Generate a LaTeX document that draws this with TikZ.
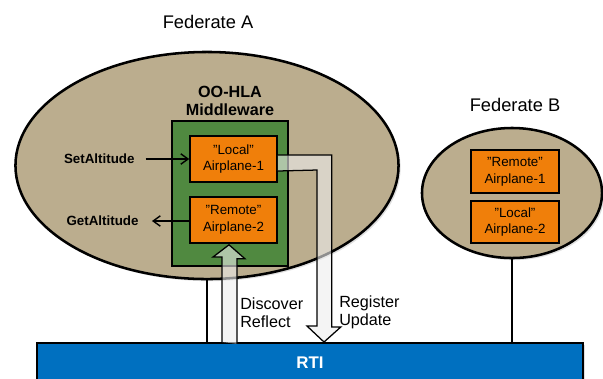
\documentclass[tikz,border=0pt]{standalone}
\usepackage{fontspec}
\setmainfont{Liberation Sans}
\usetikzlibrary{calc}
\usetikzlibrary{shapes.geometric}
\usetikzlibrary{shadows}
\usetikzlibrary{arrows.meta}
\tikzset{>={Straight Barb[length=1.8mm,width=2.6mm]}}
\definecolor{fedtan}{RGB}{187,173,142}
\definecolor{mwgreen}{RGB}{80,137,64}
\definecolor{objorange}{RGB}{240,127,10}
\definecolor{rtiblue}{RGB}{0,112,192}
\tikzset{
  federate/.style={ellipse, draw, line width=1.8pt, fill=fedtan,
    drop shadow={shadow xshift=1.5pt, shadow yshift=-1.5pt, opacity=0.25}},
  fedname/.style={font=\fontsize{13}{15}\selectfont},
  object/.style={draw, line width=1.1pt, fill=objorange, minimum width=2.175cm,
    minimum height=1.15cm, align=center, inner sep=0pt, font=\fontsize{9.5}{12}\selectfont},
  call/.style={font=\bfseries\fontsize{9.5}{12}\selectfont},
  flow/.style={draw, line width=0.9pt, fill=gray!14, fill opacity=0.6},
  flowtext/.style={align=left, anchor=north west, inner sep=0pt, font=\fontsize{11.5}{13}\selectfont},
}

\begin{document}
\begin{tikzpicture}[x=0.025cm, y=-0.025cm]
  \useasboundingbox (0,0) rectangle (603,378);

  \node[fedname] (nameA) at (208,22) {Federate A};
  \node[federate, minimum width=9.575cm, minimum height=5.675cm] (feda) at (207,165.5) {};
  \node[fedname] (nameB) at (515,105) {Federate B};
  \node[federate, minimum width=4.5cm, minimum height=3.25cm] (fedb) at (512,193) {};

  \node[draw, line width=1.4pt, fill=rtiblue, minimum width=13.65cm, minimum height=1cm,
    text=white, font=\bfseries\fontsize{12}{14}\selectfont,
    drop shadow={shadow xshift=1.5pt, shadow yshift=-1.5pt, opacity=0.25}] (rti) at (310,363) {RTI};
  \draw[line width=1.4pt] (feda.south) -- (feda.south |- rti.north);
  \draw[line width=1.4pt] (fedb.south) -- (fedb.south |- rti.north);

  \node[draw, line width=1.1pt, fill=mwgreen, minimum width=2.9cm, minimum height=3.625cm] (mw) at (230,193.5) {};
  \node[above, align=center, font=\bfseries\fontsize{11.5}{12.8}\selectfont] (mwname) at (mw.north) {OO-HLA\\Middleware};

  \node[object] (loc1) at (233.5,159) {"Local"\\Airplane-1};
  \node[object] (rem2) at (233.5,220) {"Remote"\\Airplane-2};
  \node[object, minimum width=2.2cm, minimum height=1.075cm] (rem1) at (515,171.5) {"Remote"\\Airplane-1};
  \node[object, minimum width=2.2cm, minimum height=1.05cm] (loc2) at (515,222) {"Local"\\Airplane-2};

  \node[call, anchor=east] (setalt) at (139.5,159) {SetAltitude};
  \draw[->, line width=1pt, shorten <=4.3pt] (setalt.east) -- (setalt.east -| loc1.west);
  \node[call, anchor=east] (getalt) at (143.5,221) {GetAltitude};
  \draw[->, line width=1pt, shorten >=6pt] (getalt.east -| rem2.west) -- (getalt.east);

  \draw[flow] ($(loc1.east)+(0,-4)$) -- ++(54,0) -- ++(0,172) -- ++(9,0)
    -- ($(rti.north)+(14,0)$) -- ++(-17,-16) -- ++(10,0) -- ++(0,-156) -- ($(loc1.east)+(0,12)$);
  \draw[flow] ($(rti.north)+(-88,0)$) -- ++(0,-85) -- ++(-9,0)
    -- ($(rem2.south)+(-4.5,1)$) -- ++(16,14) -- ++(-8,0) -- ++(0,85);

  \node[flowtext] (discover) at (240,297) {Discover\\Reflect};
  \node[flowtext] (register) at (339,295) {Register\\Update};
\end{tikzpicture}
\end{document}
